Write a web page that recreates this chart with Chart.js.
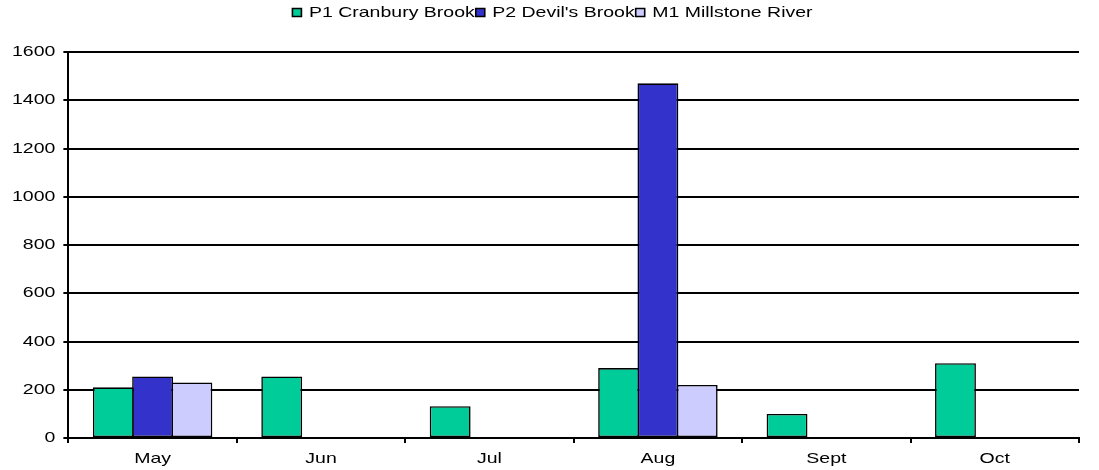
<!DOCTYPE html>
<html>
<head>
<meta charset="utf-8">
<script src="https://cdn.jsdelivr.net/npm/chart.js@4/dist/chart.umd.min.js"></script>
<style>
  html, body { margin: 0; padding: 0; background: #fff; }
  #wrap { width: 1099px; height: 470px; }
</style>
</head>
<body>
<div id="wrap"><canvas id="chart" width="1099" height="470"></canvas></div>
<script>
const months = ["May", "Jun", "Jul", "Aug", "Sept", "Oct"];
const cranbury = [210, 255, 132, 290, 100, 310];
const devils = [255, null, null, 1470, null, null];
const millstone = [230, null, null, 220, null, null];
const yTicks = [0, 200, 400, 600, 800, 1000, 1200, 1400, 1600];

const canvas = document.getElementById("chart");
const ctx = canvas.getContext("2d");

// Labels in this chart are set wide; stretch glyphs horizontally around their anchor
// and report the wider measure so the layout makes room for them.
const STRETCH = 1.3;
const baseFill = CanvasRenderingContext2D.prototype.fillText;
const baseMeasure = CanvasRenderingContext2D.prototype.measureText;
ctx.fillText = function (text, x, y) {
  this.save();
  this.translate(x, y);
  this.scale(STRETCH, 1);
  baseFill.call(this, text, 0, 0);
  this.restore();
};
ctx.measureText = function (text) {
  const m = baseMeasure.call(this, text);
  return {
    width: m.width * STRETCH,
    actualBoundingBoxAscent: m.actualBoundingBoxAscent,
    actualBoundingBoxDescent: m.actualBoundingBoxDescent,
  };
};

// extra room under the legend, and nudge it right a little
const legendSpacing = {
  id: "legendSpacing",
  beforeInit(chart) {
    const fit = chart.legend.fit;
    chart.legend.fit = function () {
      fit.call(this);
      this.height += 22;
    };
  },
  afterLayout(chart) {
    chart.legend.left += 11;
    chart.legend.right += 11;
  },
};

Chart.defaults.font.family = "'Liberation Sans', Arial, sans-serif";
Chart.defaults.font.size = 15;
Chart.defaults.color = "#000";

const bar = (label, data, color) => ({
  label, data, backgroundColor: color,
  borderColor: "#000", borderWidth: 1.6, borderSkipped: false,
});

new Chart(ctx, {
  type: "bar",
  data: {
    labels: months,
    datasets: [
      bar("P1 Cranbury Brook", cranbury, "#00cc99"),
      bar("P2 Devil's Brook", devils, "#3333cc"),
      bar("M1 Millstone River", millstone, "#ccccff"),
    ],
  },
  options: {
    responsive: false,
    animation: false,
    events: [],
    layout: { padding: { top: 4, right: 20, bottom: -5, left: 4 } },
    // bars in a group share their edge line, so let them overlap slightly
    datasets: { bar: { categoryPercentage: 0.7, barPercentage: 1.04 } },
    plugins: {
      legend: {
        position: "top",
        labels: { boxWidth: 9, boxHeight: 8, padding: 1, color: "#000", font: { size: 15 } },
      },
      tooltip: { enabled: false },
    },
    scales: {
      x: {
        offset: true,
        grid: { display: true, drawOnChartArea: false, color: "#000", lineWidth: 2, tickLength: 5, offset: true },
        border: { color: "#000", width: 2 },
        ticks: { padding: 7, color: "#000" },
      },
      y: {
        min: 0,
        max: 1600,
        afterBuildTicks: (axis) => { axis.ticks = yTicks.map((value) => ({ value })); },
        grid: { color: "#000", lineWidth: 2, tickLength: 5 },
        border: { color: "#000", width: 2 },
        ticks: { padding: 8, color: "#000", callback: (value) => String(value) },
      },
    },
  },
  plugins: [legendSpacing],
});
</script>
</body>
</html>
